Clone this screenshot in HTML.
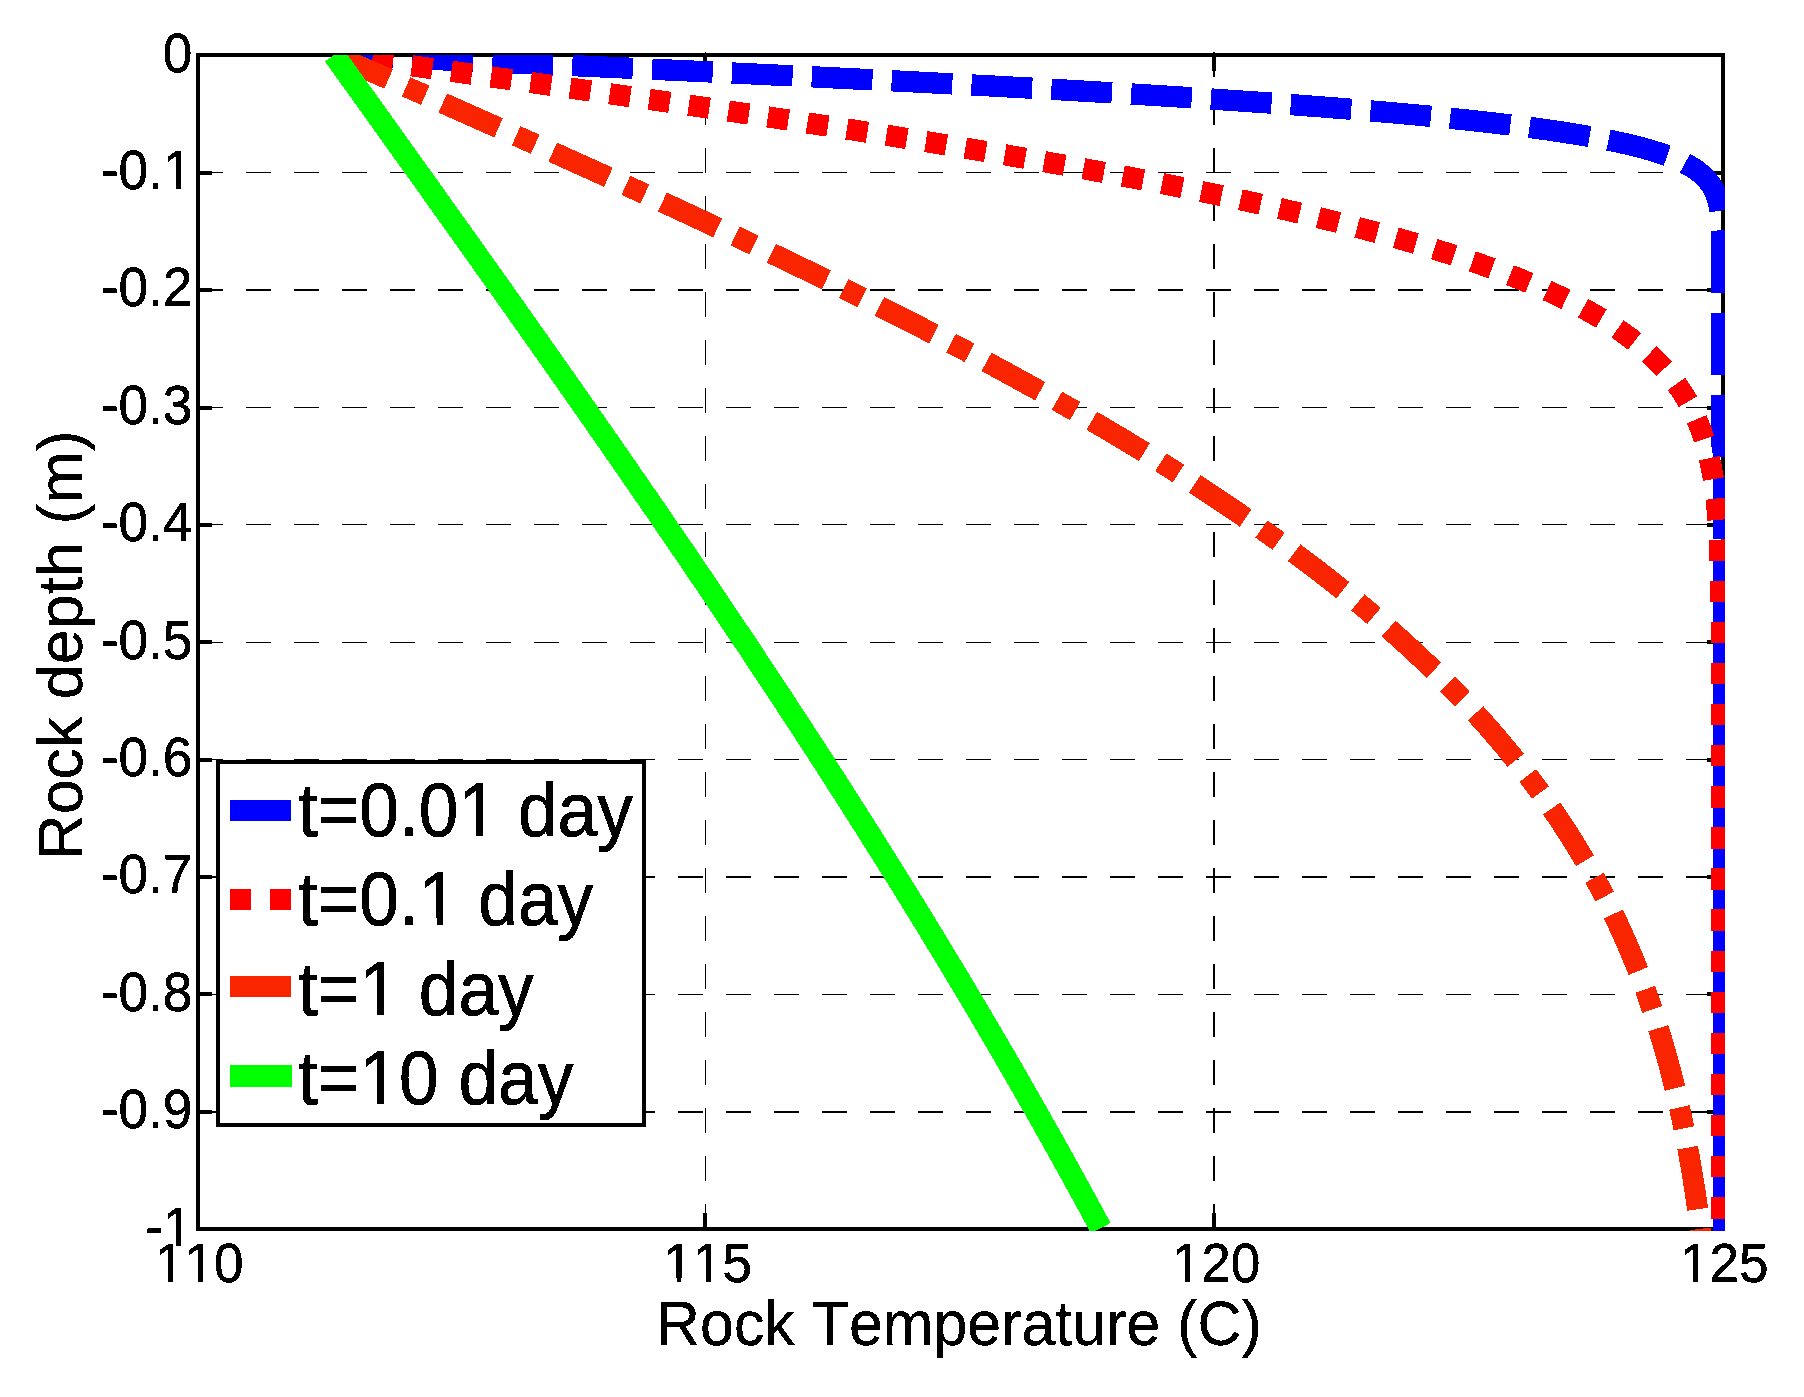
<!DOCTYPE html>
<html lang="en"><head><meta charset="utf-8"><title>Rock temperature profile</title>
<style>
html,body{margin:0;padding:0;background:#fff;}
body{width:1804px;height:1397px;overflow:hidden;}
svg{display:block;}
text{font-family:"Liberation Sans", sans-serif;fill:#000;font-kerning:none;}
</style></head><body>
<svg width="1804" height="1397" viewBox="0 0 1804 1397">
<rect x="0" y="0" width="1804" height="1397" fill="#fff"/>
<defs><filter id="bin" x="-5%" y="-5%" width="110%" height="110%" color-interpolation-filters="sRGB"><feComponentTransfer><feFuncA type="discrete" tableValues="0 1"/></feComponentTransfer></filter><clipPath id="ax"><rect x="198" y="55" width="1527" height="1176"/></clipPath></defs><defs><clipPath id="k0"><path clip-rule="evenodd" d="M-3000 -3000H3000V3000H-3000ZM-29.11 -5.08H-17.22V1.69H-29.11ZM-12.18 -5.08H-0.91V1.69H-12.18Z"/></clipPath><clipPath id="k1"><path clip-rule="evenodd" d="M-3000 -3000H3000V3000H-3000ZM-29.11 -5.08H-17.22V1.69H-29.11ZM-12.18 -5.08H-0.91V1.69H-12.18Z"/></clipPath><clipPath id="k2"><path clip-rule="evenodd" d="M-3000 -3000H3000V3000H-3000ZM-44.79 -5.08H-32.91V1.69H-44.79ZM-27.86 -5.08H-16.59V1.69H-27.86ZM-13.43 -5.08H-1.54V1.69H-13.43ZM3.50 -5.08H14.77V1.69H3.50Z"/></clipPath><clipPath id="k3"><path clip-rule="evenodd" d="M-3000 -3000H3000V3000H-3000ZM-44.79 -5.08H-32.91V1.69H-44.79ZM-27.86 -5.08H-16.59V1.69H-27.86ZM-13.43 -5.08H-1.54V1.69H-13.43ZM3.50 -5.08H14.77V1.69H3.50Z"/></clipPath><clipPath id="k4"><path clip-rule="evenodd" d="M-3000 -3000H3000V3000H-3000ZM-44.79 -5.08H-32.91V1.69H-44.79ZM-27.86 -5.08H-16.59V1.69H-27.86Z"/></clipPath><clipPath id="k5"><path clip-rule="evenodd" d="M-3000 -3000H3000V3000H-3000ZM-44.79 -5.08H-32.91V1.69H-44.79ZM-27.86 -5.08H-16.59V1.69H-27.86Z"/></clipPath><clipPath id="k6"><path clip-rule="evenodd" d="M-3000 -3000H3000V3000H-3000ZM174.19 -6.84H190.21V2.28H174.19ZM197.00 -6.84H212.19V2.28H197.00Z"/></clipPath><clipPath id="k7"><path clip-rule="evenodd" d="M-3000 -3000H3000V3000H-3000ZM131.92 -6.84H147.94V2.28H131.92ZM154.74 -6.84H169.92V2.28H154.74Z"/></clipPath><clipPath id="k8"><path clip-rule="evenodd" d="M-3000 -3000H3000V3000H-3000ZM68.54 -6.84H84.56V2.28H68.54ZM91.35 -6.84H106.54V2.28H91.35Z"/></clipPath><clipPath id="k9"><path clip-rule="evenodd" d="M-3000 -3000H3000V3000H-3000ZM68.54 -6.84H84.56V2.28H68.54ZM91.35 -6.84H106.54V2.28H91.35Z"/></clipPath></defs>

<g stroke="#000" fill="none" shape-rendering="crispEdges">
<line x1="198" y1="172.5" x2="1723" y2="172.5" stroke-width="1" stroke-dasharray="25 23"/>
<line x1="198" y1="290.0" x2="1723" y2="290.0" stroke-width="2" stroke-dasharray="25 23"/>
<line x1="198" y1="407.5" x2="1723" y2="407.5" stroke-width="1" stroke-dasharray="25 23"/>
<line x1="198" y1="524.5" x2="1723" y2="524.5" stroke-width="1" stroke-dasharray="25 23"/>
<line x1="198" y1="642.5" x2="1723" y2="642.5" stroke-width="1" stroke-dasharray="25 23"/>
<line x1="198" y1="759.5" x2="1723" y2="759.5" stroke-width="1" stroke-dasharray="25 23"/>
<line x1="198" y1="877.0" x2="1723" y2="877.0" stroke-width="2" stroke-dasharray="25 23"/>
<line x1="198" y1="994.5" x2="1723" y2="994.5" stroke-width="1" stroke-dasharray="25 23"/>
<line x1="198" y1="1112.0" x2="1723" y2="1112.0" stroke-width="2" stroke-dasharray="25 23"/>
<line x1="705.5" y1="52" x2="705.5" y2="1229" stroke-width="1" stroke-dasharray="25 23"/>
<line x1="1214.0" y1="52" x2="1214.0" y2="1229" stroke-width="2" stroke-dasharray="25 23"/>
</g>
<g stroke="#000" fill="none" stroke-width="4" shape-rendering="crispEdges">
<rect x="198" y="55" width="1525" height="1174"/>
<line x1="198" y1="173" x2="212" y2="173"/>
<line x1="1723" y1="173" x2="1707" y2="173"/>
<line x1="198" y1="290" x2="212" y2="290"/>
<line x1="1723" y1="290" x2="1707" y2="290"/>
<line x1="198" y1="408" x2="212" y2="408"/>
<line x1="1723" y1="408" x2="1707" y2="408"/>
<line x1="198" y1="525" x2="212" y2="525"/>
<line x1="1723" y1="525" x2="1707" y2="525"/>
<line x1="198" y1="642" x2="212" y2="642"/>
<line x1="1723" y1="642" x2="1707" y2="642"/>
<line x1="198" y1="760" x2="212" y2="760"/>
<line x1="1723" y1="760" x2="1707" y2="760"/>
<line x1="198" y1="877" x2="212" y2="877"/>
<line x1="1723" y1="877" x2="1707" y2="877"/>
<line x1="198" y1="994" x2="212" y2="994"/>
<line x1="1723" y1="994" x2="1707" y2="994"/>
<line x1="198" y1="1112" x2="212" y2="1112"/>
<line x1="1723" y1="1112" x2="1707" y2="1112"/>
<line x1="705" y1="55" x2="705" y2="71"/>
<line x1="705" y1="1229" x2="705" y2="1213"/>
<line x1="1214" y1="55" x2="1214" y2="71"/>
<line x1="1214" y1="1229" x2="1214" y2="1213"/>
</g>
<g fill="none" clip-path="url(#ax)" stroke-linejoin="bevel" stroke-linecap="butt" shape-rendering="crispEdges">
<path stroke="#0000ff" stroke-width="21.3" d="M334.03 55.00 L393.27 57.62 M412.45 58.47 L473.14 61.16 M492.32 62.01 L553.01 64.73 M572.19 65.60 L632.88 68.36 M652.06 69.24 L712.75 72.06 M731.92 72.96 L792.61 75.86 M811.78 76.79 L872.46 79.80 M891.64 80.76 L952.31 83.90 M971.48 84.91 L1032.15 88.21 M1051.32 89.28 L1111.97 92.80 M1131.14 93.95 L1191.77 97.74 M1210.93 99.00 L1242.06 101.10 L1271.55 103.17 M1290.70 104.56 L1322.09 106.94 L1351.27 109.26 M1370.41 110.86 L1401.38 113.57 L1430.92 116.33 M1450.03 118.23 L1481.34 121.57 L1496.22 123.27 L1510.43 124.97 M1529.48 127.40 L1545.91 129.64 L1561.58 131.94 L1576.35 134.28 L1589.57 136.53 M1608.45 140.09 L1617.70 142.01 L1626.13 143.89 L1633.73 145.70 L1641.34 147.65 L1648.05 149.50 L1654.74 151.49 L1661.43 153.65 L1667.22 155.69 M1684.91 163.33 L1689.07 165.58 L1692.36 167.54 L1696.20 170.08 L1699.27 172.37 L1702.22 174.83 L1704.98 177.45 L1707.55 180.26 L1709.45 182.65 L1711.61 185.77 L1713.16 188.39 L1714.86 191.80 L1716.30 195.32 L1717.50 198.95 L1718.48 202.62 L1719.27 206.34 L1719.99 210.72 M1721.54 230.39 L1721.78 239.72 L1721.92 251.17 L1722.00 292.89 M1722.00 312.64 L1722.00 375.14 M1722.00 394.89 L1722.00 438.63 L1722.05 444.68 L1722.16 446.95 L1722.34 448.46 L1722.66 449.98 L1723.26 452.16 L1723.60 453.65 L1723.81 455.18 L1723.93 457.19 M1724.00 476.94 L1724.00 539.44 M1724.00 559.19 L1724.00 621.69 M1724.00 641.44 L1724.00 703.94 M1724.00 723.69 L1724.00 786.19 M1724.00 805.94 L1724.00 868.44 M1724.00 888.19 L1724.00 950.69 M1724.00 970.44 L1724.00 1032.94 M1724.00 1052.69 L1724.00 1115.19 M1724.00 1134.94 L1724.00 1197.44 M1724.00 1217.19 L1724.00 1264.22"/>
<path stroke="#ff0000" stroke-width="21.2" d="M334.03 55.00 L353.20 57.66 M372.17 60.30 L392.79 63.17 M411.76 65.81 L432.38 68.68 M451.35 71.33 L471.96 74.22 M490.93 76.88 L511.54 79.77 M530.51 82.45 L551.12 85.36 M570.09 88.06 L590.69 90.99 M609.66 93.71 L630.26 96.67 M649.22 99.41 L669.82 102.40 M688.78 105.17 L709.37 108.20 M728.32 111.00 L748.91 114.07 M767.86 116.92 L788.44 120.03 M807.38 122.92 L827.95 126.09 M846.88 129.03 L867.45 132.25 M886.37 135.25 L906.92 138.54 M925.84 141.60 L946.38 144.97 M965.29 148.10 L985.82 151.55 M1004.71 154.77 L1025.22 158.32 M1044.10 161.63 L1064.59 165.28 M1083.45 168.69 L1103.93 172.47 M1122.76 176.00 L1143.21 179.91 M1162.03 183.58 L1182.45 187.65 M1201.23 191.48 L1221.62 195.73 M1240.37 199.74 L1260.71 204.20 M1279.41 208.42 L1299.71 213.12 M1318.36 217.59 L1338.58 222.58 M1357.16 227.34 L1377.30 232.68 M1395.80 237.79 L1415.83 243.56 M1434.21 249.09 L1454.09 255.37 M1472.31 261.44 L1481.96 264.79 L1491.99 268.38 M1509.98 275.12 L1519.69 278.95 L1529.36 282.90 M1547.01 290.52 L1556.93 295.08 L1565.94 299.40 M1583.07 308.20 L1592.27 313.30 L1601.26 318.56 M1617.53 328.96 L1621.75 331.87 L1626.17 335.03 L1630.57 338.30 L1634.50 341.33 M1649.27 353.85 L1652.90 357.24 L1656.79 361.07 L1660.52 364.91 L1664.13 368.82 M1676.40 383.92 L1679.48 388.26 L1682.46 392.72 L1685.27 397.21 L1687.92 401.73 M1696.67 419.24 L1698.67 423.99 L1700.59 428.91 L1702.38 433.87 L1704.15 439.20 M1709.33 458.16 L1710.37 462.83 L1711.43 468.01 L1712.41 473.22 L1713.41 479.14 M1716.05 498.65 L1717.11 509.05 L1718.02 519.95 M1719.24 539.61 L1719.69 549.60 L1720.11 560.99 M1720.62 580.69 L1720.98 602.08 M1721.18 621.78 L1721.32 643.18 M1721.39 662.88 L1721.44 684.28 M1721.47 703.98 L1721.48 725.38 M1721.49 745.08 L1721.49 766.48 M1721.50 786.18 L1721.50 807.58 M1721.50 827.28 L1721.50 848.68 M1721.50 868.38 L1721.50 889.78 M1721.50 909.48 L1721.50 930.88 M1721.50 950.58 L1721.50 971.98 M1721.50 991.68 L1721.50 1013.08 M1721.50 1032.78 L1721.50 1054.18 M1721.50 1073.88 L1721.50 1095.28 M1721.50 1114.98 L1721.50 1136.38 M1721.50 1156.08 L1721.50 1177.48 M1721.50 1197.18 L1721.50 1218.58 M1721.50 1238.28 L1721.50 1259.68"/>
<path stroke="#f92400" stroke-width="21" d="M334.03 55.00 L388.52 79.05 M406.11 86.83 L425.22 95.28 M442.81 103.07 L498.57 127.87 M516.14 135.71 L535.21 144.25 M552.76 152.14 L608.37 177.30 M625.87 185.29 L644.87 193.99 M662.35 202.04 L690.30 215.00 L717.70 227.81 M735.11 236.01 L754.00 244.96 M771.37 253.26 L799.56 266.84 L826.33 279.89 M843.60 288.39 L862.33 297.69 M879.55 306.32 L906.82 320.16 L933.95 334.13 M951.03 343.05 L969.53 352.82 M986.53 361.90 L1013.61 376.59 L1040.15 391.27 M1056.95 400.72 L1075.14 411.10 M1091.82 420.77 L1105.29 428.68 L1118.25 436.38 L1131.18 444.16 L1144.34 452.18 M1160.75 462.34 L1178.49 473.52 M1194.73 483.95 L1207.81 492.50 L1220.37 500.83 L1232.85 509.24 L1245.66 518.01 M1261.50 529.08 L1278.59 541.29 M1294.19 552.71 L1306.37 561.82 L1318.75 571.25 L1330.98 580.78 L1342.81 590.18 M1357.82 602.40 L1366.21 609.38 L1373.95 615.92 M1388.60 628.60 L1400.58 639.25 L1411.78 649.47 L1423.02 659.98 L1433.80 670.35 M1447.59 684.02 L1454.95 691.52 L1462.29 699.16 M1475.56 713.36 L1486.06 725.02 L1496.30 736.77 L1506.30 748.63 L1515.74 760.22 M1527.75 775.56 L1534.28 784.20 L1540.42 792.54 M1551.70 808.45 L1560.39 821.28 L1568.96 834.47 L1577.04 847.44 L1584.96 860.73 M1594.61 877.75 L1599.60 886.98 L1604.60 896.52 M1613.36 914.04 L1620.04 928.20 L1626.20 941.92 L1632.40 956.48 L1638.26 971.03 M1645.21 989.38 L1648.78 999.36 L1652.27 1009.51 M1658.34 1028.20 L1662.91 1043.25 L1667.07 1057.84 L1671.21 1073.32 L1674.97 1088.30 M1679.44 1107.45 L1681.65 1117.56 L1683.90 1128.35 M1687.67 1147.67 L1690.43 1162.98 L1692.96 1178.08 L1695.34 1193.28 L1697.67 1209.31 M1700.27 1228.83 L1702.83 1250.06"/>
<path stroke="#00ff00" stroke-width="22.2" d="M334.03 55.00 L424.92 181.95 L459.50 230.43 L490.97 274.70 L521.55 317.89 L550.19 358.53 L578.00 398.18 L604.39 436.03 L630.72 474.01 L656.27 511.11 L680.97 547.24 L705.33 583.13 L728.60 617.69 L751.66 652.20 L774.01 685.94 L795.90 719.28 L818.11 753.43 L839.58 786.76 L860.90 820.22 L881.62 853.06 L901.90 885.56 L921.88 917.95 L941.20 949.63 L960.23 981.20 L978.94 1012.63 L997.31 1043.88 L1015.30 1074.87 L1033.10 1105.95 L1050.54 1136.82 L1067.61 1167.45 L1084.29 1197.82 L1100.73 1228.18"/>
</g>
<g filter="url(#bin)"><text transform="translate(192.40,71.50) scale(0.9415,1)" font-size="56.40" text-anchor="end" stroke="#000" stroke-width="0.50">0</text>
<text transform="translate(192.40,188.90) scale(0.9415,1)" font-size="56.40" text-anchor="end" clip-path="url(#k0)" stroke="#000" stroke-width="0.50">-0.1</text>
<text transform="translate(192.40,306.30) scale(0.9415,1)" font-size="56.40" text-anchor="end" stroke="#000" stroke-width="0.50">-0.2</text>
<text transform="translate(192.40,423.70) scale(0.9415,1)" font-size="56.40" text-anchor="end" stroke="#000" stroke-width="0.50">-0.3</text>
<text transform="translate(192.40,541.10) scale(0.9415,1)" font-size="56.40" text-anchor="end" stroke="#000" stroke-width="0.50">-0.4</text>
<text transform="translate(192.40,658.50) scale(0.9415,1)" font-size="56.40" text-anchor="end" stroke="#000" stroke-width="0.50">-0.5</text>
<text transform="translate(192.40,775.90) scale(0.9415,1)" font-size="56.40" text-anchor="end" stroke="#000" stroke-width="0.50">-0.6</text>
<text transform="translate(192.40,893.30) scale(0.9415,1)" font-size="56.40" text-anchor="end" stroke="#000" stroke-width="0.50">-0.7</text>
<text transform="translate(192.40,1010.70) scale(0.9415,1)" font-size="56.40" text-anchor="end" stroke="#000" stroke-width="0.50">-0.8</text>
<text transform="translate(192.40,1128.10) scale(0.9415,1)" font-size="56.40" text-anchor="end" stroke="#000" stroke-width="0.50">-0.9</text>
<text transform="translate(192.40,1245.50) scale(0.9415,1)" font-size="56.40" text-anchor="end" clip-path="url(#k1)" stroke="#000" stroke-width="0.50">-1</text></g>
<g filter="url(#bin)"><text transform="translate(199.30,1282.40) scale(0.9415,1)" font-size="56.40" text-anchor="middle" clip-path="url(#k2)" stroke="#000" stroke-width="0.50">110</text>
<text transform="translate(707.63,1282.40) scale(0.9415,1)" font-size="56.40" text-anchor="middle" clip-path="url(#k3)" stroke="#000" stroke-width="0.50">115</text>
<text transform="translate(1215.97,1282.40) scale(0.9415,1)" font-size="56.40" text-anchor="middle" clip-path="url(#k4)" stroke="#000" stroke-width="0.50">120</text>
<text transform="translate(1724.30,1282.40) scale(0.9415,1)" font-size="56.40" text-anchor="middle" clip-path="url(#k5)" stroke="#000" stroke-width="0.50">125</text></g>
<g filter="url(#bin)"><text transform="translate(958.90,1345.00) scale(0.9591,1)" font-size="63.50" text-anchor="middle" stroke="#000" stroke-width="0.30">Rock Temperature (C)</text>
<text transform="translate(81.90,645.00) rotate(-90) scale(0.9896,1)" font-size="63.50" text-anchor="middle" stroke="#000" stroke-width="0.30">Rock depth (m)</text></g>
<g>
<rect x="218" y="762" width="426" height="362.7" fill="#fff" stroke="#000" stroke-width="4" shape-rendering="crispEdges"/>
<rect x="230" y="800" width="61" height="21" fill="#0000ff" shape-rendering="crispEdges"/>
<rect x="230" y="889" width="21" height="21" fill="#ff0000" shape-rendering="crispEdges"/>
<rect x="270" y="889" width="21" height="21" fill="#ff0000" shape-rendering="crispEdges"/>
<rect x="230" y="976" width="61" height="21" fill="#f92400" shape-rendering="crispEdges"/>
<rect x="230" y="1065" width="62" height="22" fill="#00ff00" shape-rendering="crispEdges"/>
<g filter="url(#bin)"><text transform="translate(297.90,835.70) scale(0.9382,1)" font-size="76.00" text-anchor="start" clip-path="url(#k6)" stroke="#000" stroke-width="0.70">t=0.01 day</text>
<text transform="translate(297.90,924.80) scale(0.9382,1)" font-size="76.00" text-anchor="start" clip-path="url(#k7)" stroke="#000" stroke-width="0.70">t=0.1 day</text>
<text transform="translate(297.90,1014.80) scale(0.9382,1)" font-size="76.00" text-anchor="start" clip-path="url(#k8)" stroke="#000" stroke-width="0.70">t=1 day</text>
<text transform="translate(297.90,1104.30) scale(0.9382,1)" font-size="76.00" text-anchor="start" clip-path="url(#k9)" stroke="#000" stroke-width="0.70">t=10 day</text></g>
</g>
</svg></body></html>
